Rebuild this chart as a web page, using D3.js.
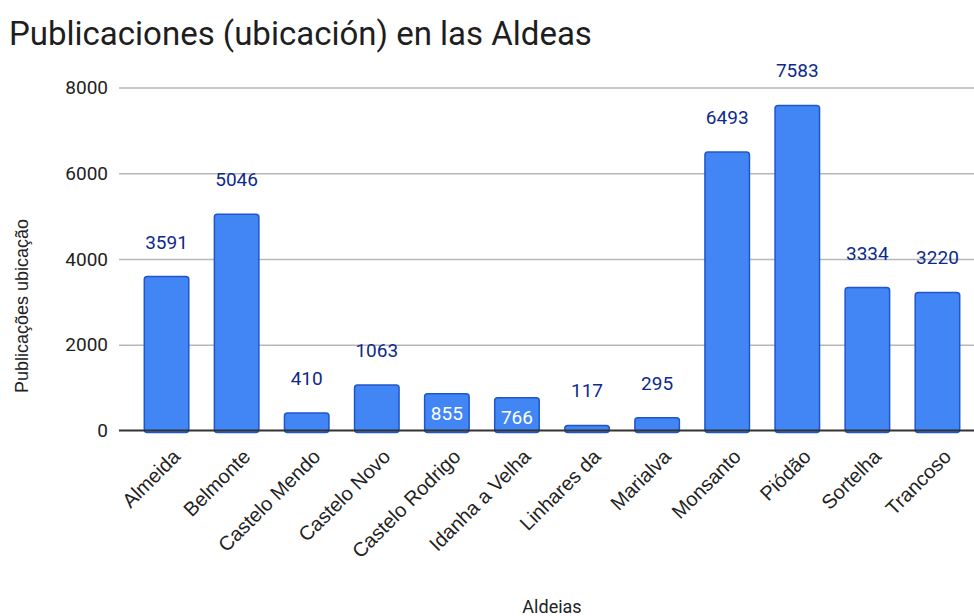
<!DOCTYPE html>
<html>
<head>
<meta charset="utf-8">
<script src="https://cdn.jsdelivr.net/npm/d3@7"></script>
<style>
  html, body { margin: 0; padding: 0; background: #fff; }
  svg { display: block; }
</style>
</head>
<body>
<svg id="chart" width="974" height="616"></svg>
<script>
const categories = ["Almeida", "Belmonte", "Castelo Mendo", "Castelo Novo", "Castelo Rodrigo", "Idanha a Velha", "Linhares da", "Marialva", "Monsanto", "Piódão", "Sortelha", "Trancoso"];
const values = [3591, 5046, 410, 1063, 855, 766, 117, 295, 6493, 7583, 3334, 3220];
const yTicks = [0, 2000, 4000, 6000, 8000];
const insideLabelCategories = ["Castelo Rodrigo", "Idanha a Velha"];
const titleText = "Publicaciones (ubicación) en las Aldeas";
const yTitle = "Publicações ubicação";
const xTitle = "Aldeias";

const data = categories.map((c, i) => ({ cat: c, val: values[i] }));

const svg = d3.select("#chart");
const W = 974, H = 616;

const x = d3.scaleBand().domain(categories).range([131.5, 972.5]).paddingInner(0.365).paddingOuter(0.1825);
const y = d3.scaleLinear().domain([0, 8000]).range([430.5, 87.5]);

svg.append("rect").attr("width", W).attr("height", H).attr("fill", "#fff");

// Title
svg.append("text").attr("x", 9).attr("y", 45)
  .attr("font-family", "Roboto, sans-serif").attr("font-size", 33).attr("fill", "#1e1e1e")
  .text(titleText);

// Gridlines via axis
const yAxis = d3.axisLeft(y).tickValues(yTicks.filter(t => t !== 0)).tickSize(-(974 - 119)).tickFormat(d => d);
const gy = svg.append("g").attr("transform", "translate(119,0)").call(yAxis);
gy.select(".domain").remove();
gy.selectAll(".tick line").attr("stroke", "#b7b7b7").attr("stroke-width", 1.5);
gy.selectAll(".tick text").remove();

// Y tick labels
svg.append("g").selectAll("text").data(yTicks).join("text")
  .attr("x", 108).attr("y", d => y(d)).attr("dy", "0.35em")
  .attr("text-anchor", "end")
  .attr("font-family", "Roboto, sans-serif").attr("font-size", 19).attr("fill", "#222")
  .text(d => d);

// Bars
svg.append("g").selectAll("rect").data(data).join("rect")
  .attr("x", d => x(d.cat)).attr("width", x.bandwidth())
  .attr("y", d => y(d.val)).attr("height", d => y(0) - y(d.val) + 2)
  .attr("rx", 3)
  .attr("fill", "#4285f4").attr("stroke", "#1f56c9").attr("stroke-width", 1.5);

// Baseline
svg.append("line").attr("x1", 119).attr("x2", 974).attr("y1", y(0)).attr("y2", y(0))
  .attr("stroke", "#333").attr("stroke-width", 2);

// Value labels
svg.append("g").selectAll("text").data(data).join("text")
  .attr("x", d => x(d.cat) + x.bandwidth() / 2)
  .attr("y", d => insideLabelCategories.includes(d.cat) ? y(d.val) + 26 : y(d.val) - 28)
  .attr("text-anchor", "middle")
  .attr("font-family", "Roboto, sans-serif").attr("font-size", 19)
  .attr("fill", d => insideLabelCategories.includes(d.cat) ? "#ffffff" : "#0d2a8c")
  .text(d => d.val);

// Category labels
svg.append("g").selectAll("text").data(categories).join("text")
  .attr("transform", d => `translate(${x(d) + x.bandwidth() / 2 + 10},${453}) rotate(-45)`)
  .attr("text-anchor", "end").attr("dy", "0.35em")
  .attr("font-family", "'Liberation Sans', Arial, sans-serif").attr("font-size", 20).attr("fill", "#222")
  .text(d => d);

// Axis titles
svg.append("text").attr("transform", "translate(28,306) rotate(-90)")
  .attr("text-anchor", "middle")
  .attr("font-family", "'Liberation Sans', Arial, sans-serif").attr("font-size", 18).attr("fill", "#222")
  .text(yTitle);

svg.append("text").attr("x", (131.5 + 972.5) / 2).attr("y", 613)
  .attr("text-anchor", "middle")
  .attr("font-family", "Roboto, sans-serif").attr("font-size", 18).attr("fill", "#222")
  .text(xTitle);
</script>
</body>
</html>
